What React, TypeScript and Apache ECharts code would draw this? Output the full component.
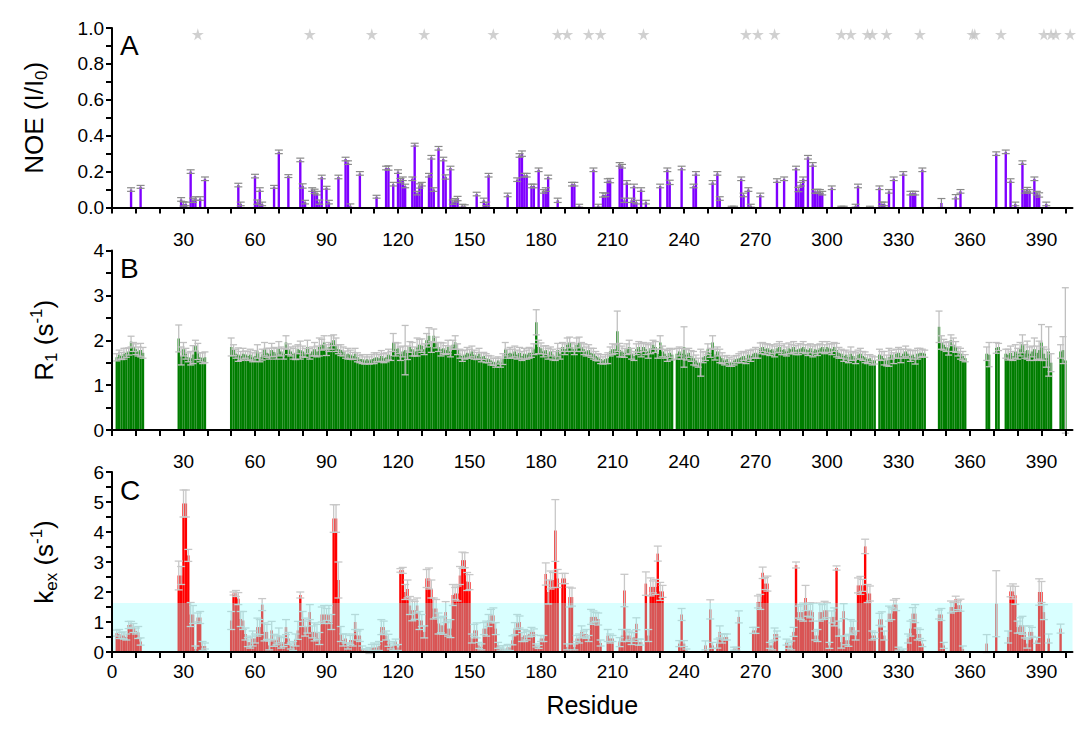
import React, { useEffect, useRef } from "react";
import * as echarts from "echarts";

const FONT = "Arial, 'Liberation Sans', sans-serif";
const X_MAX = 403;

const xTickValues = [0, 10, 20, 30, 40, 50, 60, 70, 80, 90, 100, 110, 120, 130, 140, 150, 160, 170, 180, 190, 200, 210, 220, 230, 240, 250, 260, 270, 280, 290, 300, 310, 320, 330, 340, 350, 360, 370, 380, 390, 400];
const xLabelsTop = [30, 60, 90, 120, 150, 180, 210, 240, 270, 300, 330, 360, 390];
const xLabelsBottom = [0, 30, 60, 90, 120, 150, 180, 210, 240, 270, 300, 330, 360, 390];
const noeTicks = [0, 0.1, 0.2, 0.3, 0.4, 0.5, 0.6, 0.7, 0.8, 0.9, 1.0];
const noeLabels = [0, 0.2, 0.4, 0.6, 0.8, 1.0];
const r1Ticks = [0, 0.5, 1, 1.5, 2, 2.5, 3, 3.5, 4];
const r1Labels = [0, 1, 2, 3, 4];
const kexTicks = [0, 0.5, 1, 1.5, 2, 2.5, 3, 3.5, 4, 4.5, 5, 5.5, 6];
const kexLabels = [0, 1, 2, 3, 4, 5, 6];

// Panel A: NOE (sparse residues)
const noeResidues = [8, 12, 29, 30, 31, 33, 34, 35, 37, 39, 53, 54, 60, 61, 62, 63, 68, 70, 74, 79, 80, 81, 84, 85, 86, 87, 88, 90, 91, 95, 98, 99, 100, 104, 111, 115, 116, 118, 120, 121, 122, 123, 126, 127, 128, 129, 130, 133, 134, 135, 137, 139, 140, 142, 143, 144, 145, 147, 148, 153, 156, 157, 158, 166, 170, 171, 172, 173, 174, 176, 177, 179, 181, 182, 183, 187, 193, 194, 196, 202, 204, 206, 207, 208, 209, 213, 214, 215, 216, 218, 219, 220, 222, 224, 230, 233, 234, 239, 244, 245, 252, 254, 255, 260, 261, 264, 265, 267, 268, 272, 279, 282, 287, 288, 289, 290, 292, 294, 295, 296, 297, 298, 302, 306, 307, 312, 313, 318, 322, 323, 324, 326, 328, 332, 335, 336, 337, 340, 348, 354, 356, 371, 375, 377, 379, 382, 383, 384, 385, 387, 388, 389, 392];
const noeValues = [0.10, 0.115, 0.045, 0.02, 0.02, 0.20, 0.04, 0.05, 0.05, 0.16, 0.125, 0.02, 0.175, 0.03, 0.10, 0.02, 0.115, 0.31, 0.175, 0.265, 0.12, 0.03, 0.10, 0.09, 0.08, 0.03, 0.17, 0.11, 0.03, 0.17, 0.27, 0.25, 0.01, 0.19, 0.06, 0.22, 0.22, 0.13, 0.20, 0.15, 0.16, 0.12, 0.16, 0.35, 0.08, 0.12, 0.13, 0.18, 0.28, 0.10, 0.33, 0.27, 0.17, 0.22, 0.03, 0.04, 0.05, 0.01, 0.005, 0.075, 0.04, 0.02, 0.18, 0.07, 0.155, 0.29, 0.30, 0.18, 0.18, 0.12, 0.12, 0.21, 0.09, 0.10, 0.17, 0.04, 0.13, 0.13, 0.01, 0.21, 0.01, 0.07, 0.07, 0.15, 0.15, 0.24, 0.23, 0.04, 0.14, 0.04, 0.12, 0.03, 0.10, 0.03, 0.12, 0.21, 0.14, 0.22, 0.12, 0.19, 0.14, 0.19, 0.05, 0.003, 0.003, 0.16, 0.07, 0.10, 0.01, 0.07, 0.15, 0.16, 0.22, 0.10, 0.13, 0.16, 0.28, 0.24, 0.09, 0.09, 0.09, 0.08, 0.11, 0.003, 0.003, 0.01, 0.12, 0.003, 0.11, 0.02, 0.02, 0.09, 0.16, 0.19, 0.08, 0.08, 0.08, 0.21, 0.025, 0.06, 0.09, 0.30, 0.31, 0.15, 0.02, 0.25, 0.09, 0.10, 0.09, 0.16, 0.08, 0.07, 0.02];
const noeErrors = [0.010, 0.008, 0.010, 0.012, 0.010, 0.010, 0.012, 0.010, 0.010, 0.010, 0.010, 0.010, 0.010, 0.012, 0.010, 0.010, 0.008, 0.010, 0.008, 0.010, 0.012, 0.010, 0.010, 0.012, 0.010, 0.012, 0.010, 0.008, 0.010, 0.010, 0.010, 0.010, 0.010, 0.010, 0.008, 0.010, 0.012, 0.010, 0.010, 0.012, 0.010, 0.010, 0.010, 0.008, 0.010, 0.012, 0.010, 0.010, 0.010, 0.010, 0.010, 0.010, 0.012, 0.010, 0.012, 0.010, 0.012, 0.008, 0.010, 0.010, 0.012, 0.010, 0.010, 0.010, 0.010, 0.010, 0.015, 0.010, 0.010, 0.010, 0.010, 0.010, 0.010, 0.010, 0.010, 0.012, 0.010, 0.010, 0.008, 0.010, 0.008, 0.012, 0.010, 0.010, 0.012, 0.010, 0.010, 0.012, 0.010, 0.012, 0.010, 0.010, 0.010, 0.010, 0.010, 0.010, 0.012, 0.010, 0.010, 0.010, 0.010, 0.010, 0.010, 0.004, 0.004, 0.010, 0.010, 0.010, 0.008, 0.010, 0.010, 0.010, 0.010, 0.012, 0.010, 0.010, 0.010, 0.010, 0.010, 0.012, 0.010, 0.010, 0.010, 0.004, 0.004, 0.008, 0.010, 0.004, 0.010, 0.010, 0.010, 0.010, 0.010, 0.010, 0.010, 0.010, 0.010, 0.010, 0.025, 0.012, 0.010, 0.010, 0.010, 0.010, 0.010, 0.010, 0.010, 0.012, 0.010, 0.010, 0.010, 0.012, 0.010, 0.015];
const starResidues = [36, 83, 109, 131, 160, 187, 191, 200, 205, 223, 266, 271, 278, 306, 310, 317, 319, 325, 339, 361, 362, 373, 391, 394, 396, 402];
const starLevel = 0.965;

// Panel B: R1, index 0 = residue 1
const r1Values = [
  null, 1.62, 1.68, 1.65, 1.70, 1.72, 1.75, 1.97, 1.85, 1.80,
  1.75, 1.78, 1.72, null, null, null, null, null, null, null,
  null, null, null, null, null, null, null, 2.04, 1.65, 1.80,
  1.70, 1.62, 1.60, 1.68, 1.88, 1.75, 1.62, 1.60, 1.62, null,
  null, null, null, null, null, null, null, null, null, 1.85,
  1.78, 1.70, 1.68, 1.65, 1.70, 1.68, 1.65, 1.68, 1.62, 1.65,
  1.75, 1.62, 1.68, 1.80, 1.72, 1.70, 1.78, 1.74, 1.70, 1.82,
  1.75, 1.70, 1.95, 1.80, 1.75, 1.70, 1.72, 1.80, 1.78, 1.75,
  1.72, 1.85, 1.70, 1.75, 1.80, 1.75, 1.85, 1.90, 1.95, 1.78,
  1.85, 1.95, 2.00, 1.90, 1.80, 1.78, 1.75, 1.68, 1.70, 1.68,
  1.65, 1.70, 1.62, 1.58, 1.58, 1.55, 1.58, 1.55, 1.58, 1.60,
  1.62, 1.60, 1.65, 1.60, 1.62, 1.68, 1.65, 1.95, 1.80, 1.82,
  1.70, 1.75, 1.78, 1.72, 1.85, 1.80, 1.75, 1.85, 1.90, 1.88,
  1.80, 2.00, 2.10, 1.85, 2.10, 1.95, 1.85, 1.80, 1.82, 1.78,
  1.85, 1.75, 1.90, 1.95, 1.80, 1.70, 1.65, 1.68, 1.72, 1.70,
  1.75, 1.68, 1.65, 1.70, 1.62, 1.65, 1.60, 1.58, 1.55, 1.52,
  1.50, 1.55, 1.50, 1.58, 1.80, 1.70, 1.72, 1.70, 1.75, 1.68,
  1.72, 1.65, 1.70, 1.68, 1.72, 1.72, 1.80, 2.40, 1.85, 1.82,
  1.75, 1.78, 1.70, 1.75, 1.68, 1.65, 1.78, 1.70, 1.85, 1.80,
  1.90, 1.95, 1.85, 1.80, 1.90, 1.95, 1.85, 1.80, 1.75, 1.78,
  1.72, 1.70, 1.65, 1.62, 1.58, 1.55, 1.58, 1.60, 1.75, 1.80,
  1.80, 2.20, 1.78, 1.75, 1.72, 1.80, 1.85, 1.70, 1.65, 1.80,
  1.85, 1.78, 1.85, 1.80, 1.75, 1.82, 1.90, 1.85, 1.70, 1.95,
  1.75, 1.70, 1.65, 1.72, 1.68, null, 1.70, 1.75, 1.70, 1.85,
  1.68, 1.72, 1.65, 1.60, 1.55, 1.50, 1.50, 1.62, 1.65, 1.80,
  1.72, 1.95, 1.68, 1.75, 1.65, 1.60, 1.55, 1.58, 1.52, 1.50,
  1.55, 1.58, 1.60, 1.62, 1.65, 1.60, 1.68, 1.65, 1.70, 1.72,
  1.70, 1.82, 1.85, 1.80, 1.82, 1.78, 1.80, 1.75, 1.82, 1.85,
  1.78, 1.80, 1.75, 1.82, 1.80, 1.85, 1.78, 1.80, 1.82, 1.85,
  1.80, 1.78, 1.82, 1.75, 1.80, 1.78, 1.82, 1.85, 1.80, 1.85,
  1.82, 1.80, 1.85, 1.78, 1.72, 1.70, 1.65, 1.68, 1.62, 1.70,
  1.65, 1.60, 1.68, 1.70, 1.65, 1.62, 1.58, 1.60, 1.55, 1.55,
  null, 1.68, 1.65, 1.60, 1.55, 1.62, 1.68, 1.60, 1.70, 1.72,
  1.65, 1.70, 1.75, 1.70, 1.65, 1.68, 1.62, 1.70, 1.72, 1.72,
  1.70, null, null, null, null, null, 2.30, 1.95, 1.90, 1.85,
  1.82, 2.00, 1.90, 1.85, 1.75, 1.70, 1.65, 1.60, null, null,
  null, null, null, null, null, null, 1.70, 1.68, null, null,
  1.83, 1.85, null, null, 1.70, 1.68, 1.72, 1.65, 1.75, 1.70,
  1.80, 1.92, 1.75, 1.78, 1.70, 1.75, 1.80, 1.72, 1.78, 1.95,
  1.70, 1.60, 1.75, 1.50, null, null, null, 1.75, 1.78, 1.55,
  null, null, null,
];
const r1Errors = [
  0, 0.08, 0.10, 0.08, 0.12, 0.10, 0.08, 0.12, 0.10, 0.12,
  0.10, 0.15, 0.12, 0, 0, 0, 0, 0, 0, 0,
  0, 0, 0, 0, 0, 0, 0, 0.30, 0.20, 0.15,
  0.12, 0.10, 0.15, 0.20, 0.12, 0.18, 0.10, 0.12, 0.12, 0,
  0, 0, 0, 0, 0, 0, 0, 0, 0, 0.20,
  0.12, 0.10, 0.15, 0.10, 0.12, 0.08, 0.10, 0.12, 0.10, 0.12,
  0.15, 0.10, 0.12, 0.15, 0.10, 0.12, 0.15, 0.10, 0.12, 0.15,
  0.10, 0.12, 0.15, 0.12, 0.10, 0.12, 0.15, 0.10, 0.20, 0.12,
  0.10, 0.15, 0.12, 0.10, 0.15, 0.12, 0.20, 0.12, 0.15, 0.12,
  0.10, 0.15, 0.12, 0.15, 0.10, 0.12, 0.10, 0.08, 0.12, 0.10,
  0.08, 0.12, 0.10, 0.08, 0.10, 0.08, 0.10, 0.08, 0.10, 0.12,
  0.10, 0.08, 0.12, 0.10, 0.10, 0.12, 0.10, 0.20, 0.15, 0.12,
  0.15, 0.12, 0.55, 0.15, 0.12, 0.15, 0.10, 0.20, 0.12, 0.15,
  0.12, 0.15, 0.18, 0.12, 0.15, 0.12, 0.10, 0.15, 0.12, 0.10,
  0.15, 0.12, 0.10, 0.15, 0.12, 0.10, 0.12, 0.10, 0.12, 0.10,
  0.12, 0.10, 0.08, 0.12, 0.10, 0.08, 0.10, 0.08, 0.10, 0.08,
  0.10, 0.08, 0.10, 0.12, 0.15, 0.10, 0.12, 0.10, 0.12, 0.10,
  0.12, 0.10, 0.12, 0.10, 0.12, 0.10, 0.12, 0.28, 0.15, 0.12,
  0.12, 0.10, 0.12, 0.10, 0.12, 0.10, 0.15, 0.12, 0.10, 0.12,
  0.15, 0.12, 0.10, 0.12, 0.15, 0.12, 0.10, 0.12, 0.10, 0.12,
  0.10, 0.12, 0.10, 0.08, 0.10, 0.08, 0.10, 0.12, 0.10, 0.12,
  0.10, 0.45, 0.15, 0.12, 0.10, 0.12, 0.15, 0.12, 0.10, 0.12,
  0.12, 0.15, 0.10, 0.12, 0.15, 0.12, 0.10, 0.12, 0.10, 0.15,
  0.12, 0.10, 0.12, 0.10, 0.12, 0, 0.12, 0.10, 0.12, 0.45,
  0.12, 0.10, 0.12, 0.15, 0.12, 0.10, 0.30, 0.12, 0.10, 0.12,
  0.10, 0.15, 0.12, 0.10, 0.15, 0.12, 0.10, 0.08, 0.10, 0.08,
  0.10, 0.08, 0.10, 0.12, 0.10, 0.12, 0.10, 0.12, 0.10, 0.12,
  0.10, 0.12, 0.10, 0.12, 0.10, 0.12, 0.10, 0.12, 0.10, 0.12,
  0.10, 0.12, 0.10, 0.12, 0.10, 0.12, 0.10, 0.12, 0.10, 0.12,
  0.10, 0.12, 0.10, 0.12, 0.10, 0.12, 0.10, 0.12, 0.10, 0.12,
  0.10, 0.12, 0.10, 0.15, 0.12, 0.10, 0.12, 0.10, 0.12, 0.15,
  0.10, 0.12, 0.10, 0.12, 0.10, 0.12, 0.10, 0.08, 0.10, 0.08,
  0, 0.12, 0.10, 0.15, 0.12, 0.20, 0.10, 0.12, 0.10, 0.12,
  0.15, 0.10, 0.12, 0.10, 0.12, 0.10, 0.15, 0.12, 0.10, 0.08,
  0.08, 0, 0, 0, 0, 0, 0.35, 0.15, 0.12, 0.10,
  0.15, 0.12, 0.15, 0.12, 0.10, 0.12, 0.10, 0.08, 0, 0,
  0, 0, 0, 0, 0, 0, 0.15, 0.27, 0, 0,
  0.12, 0.08, 0, 0, 0.10, 0.12, 0.15, 0.10, 0.15, 0.12,
  0.15, 0.20, 0.15, 0.20, 0.15, 0.12, 0.25, 0.15, 0.20, 0.40,
  0.15, 0.20, 0.55, 0.20, 0, 0, 0, 0.15, 0.30, 1.62,
  0, 0, 0,
];

// Panel C: kex, index 0 = residue 1
const kexValues = [
  null, 0.63, 0.60, 0.55, 0.55, 0.50, 0.90, 0.92, 0.80, 0.70,
  0.65, 0.35, null, null, null, null, null, null, null, null,
  null, null, null, null, null, null, null, 2.55, 2.55, 4.95,
  4.95, 3.22, 1.25, 1.25, 0.10, 1.15, 1.15, 0.20, 0.20, null,
  null, null, null, null, null, null, null, null, null, 1.05,
  1.95, 1.95, 1.78, 1.10, 1.05, 0.60, 0.33, 0.33, 0.45, 0.45,
  0.83, 0.83, 1.58, 0.67, 0.67, 0.22, 0.72, 0.39, 0.39, 0.55,
  0.33, 0.33, 0.83, 0.45, 0.20, 0.20, 0.40, 0.72, 1.90, 1.10,
  0.83, 0.83, 1.33, 0.67, 0.67, 0.67, 0.45, 1.25, 1.25, 1.25,
  1.25, 1.00, 4.45, 4.45, 2.40, 0.60, 0.40, 0.45, 0.20, 0.40,
  0.40, 1.00, 0.55, 0.55, 0.10, 0.05, 0.05, 0.05, 0.15, 0.15,
  0.15, 0.20, 0.83, 0.83, 0.55, 0.39, 0.20, 0.20, 0.33, 0.15,
  2.72, 2.72, 2.00, 2.10, 1.55, 1.39, 1.39, 1.55, 1.05, 1.05,
  0.67, 2.45, 2.45, 2.10, 1.45, 1.45, 0.95, 0.89, 0.89, 1.33,
  0.78, 0.78, 1.90, 1.95, 1.95, 2.55, 3.06, 3.06, 2.35, 2.33,
  0.45, 0.72, 0.72, 0.22, 0.17, 0.78, 0.78, 1.05, 1.22, 1.22,
  0.78, 0.22, 0.11, 0.11, 0.05, 0.15, 0.15, 0.39, 0.78, 1.00,
  1.00, 0.50, 0.55, 0.55, 0.60, 0.67, 0.67, 0.22, 0.17, 0.45,
  0.45, 2.60, 2.00, 2.40, 2.40, 4.05, 2.45, null, 2.45, 2.45,
  0.17, 1.83, 1.83, 0.17, 0.45, 0.45, 0.67, 0.60, 0.60, 0.45,
  1.17, 1.17, 1.17, 1.10, 0.30, null, null, 0.55, 0.45, 0.45,
  null, null, 0.33, 0.55, 2.05, 0.55, 0.55, 0.45, 0.50, 0.94,
  0.33, 0.33, null, 2.28, 0.55, 2.17, 2.17, 2.17, 3.28, 2.02,
  2.02, null, null, null, null, null, null, 0.28, 1.25, 0.28,
  0.05, null, null, null, null, null, null, null, 0.22, null,
  1.42, 0.22, null, 0.28, 0.67, 0.45, 0.50, 0.50, null, null,
  0.11, 0.11, 1.17, null, null, null, null, null, 0.72, 0.72,
  1.67, 1.67, 2.64, 2.28, 2.28, 0.22, 0.22, 0.60, 0.60, null,
  null, null, 0.33, 0.22, 0.22, 0.67, 2.90, 1.33, 1.33, 1.33,
  1.80, 1.39, 1.39, 1.33, 0.55, 0.55, 1.33, 1.33, 1.39, 1.39,
  0.22, 1.17, 1.17, 2.80, 0.78, 0.33, 1.36, 0.39, 0.39, 0.83,
  0.83, 0.55, 2.22, 2.22, 2.22, 3.52, 1.95, 1.95, 0.55, 0.55,
  null, 1.09, 1.09, 0.55, null, 1.28, 1.28, 1.58, 1.58, 0.11,
  null, 0.05, null, 0.45, 0.78, 1.28, 1.28, 0.60, 0.60, 0.28,
  null, null, null, null, null, null, 1.25, 1.25, 0.22, null,
  null, 1.50, 1.50, 1.76, 1.56, 1.56, 0.10, null, null, null,
  null, null, null, null, null, null, 0.28, null, null, null,
  1.61, null, null, null, null, 0.50, 2.02, 2.02, 1.89, 0.83,
  0.89, 0.89, 0.67, 0.28, 0.67, 0.67, null, 0.39, 2.00, 2.00,
  1.33, null, 0.45, null, null, null, null, 0.78, null, null,
  null, null, null,
];
const kexErrors = [
  0, 0.10, 0.15, 0.10, 0.12, 0.10, 0.12, 0.10, 0.15, 0.10,
  0.20, 0.12, 0, 0, 0, 0, 0, 0, 0, 0,
  0, 0, 0, 0, 0, 0, 0, 0.48, 0.30, 0.45,
  0.45, 0.20, 0.40, 0.30, 0.10, 0.15, 0.20, 0.15, 0.10, 0,
  0, 0, 0, 0, 0, 0, 0, 0, 0, 0.30,
  0.05, 0.10, 0.20, 0.25, 0.30, 0.20, 0.15, 0.20, 0.25, 0.15,
  0.30, 0.25, 0.20, 0.30, 0.25, 0.15, 0.30, 0.20, 0.15, 0.25,
  0.20, 0.15, 0.25, 0.20, 0.10, 0.15, 0.20, 0.30, 0.10, 0.25,
  0.30, 0.20, 0.25, 0.20, 0.30, 0.25, 0.20, 0.25, 0.30, 0.20,
  0.30, 0.25, 0.46, 0.46, 0.60, 0.25, 0.20, 0.15, 0.10, 0.15,
  0.20, 0.25, 0.15, 0.20, 0.10, 0.05, 0.05, 0.10, 0.10, 0.15,
  0.10, 0.15, 0.25, 0.20, 0.15, 0.20, 0.10, 0.15, 0.10, 0.10,
  0.06, 0.10, 0.25, 0.30, 0.30, 0.35, 0.30, 0.25, 0.30, 0.20,
  0.20, 0.30, 0.35, 0.30, 0.35, 0.30, 0.35, 0.25, 0.30, 0.35,
  0.25, 0.30, 0.35, 0.20, 0.25, 0.30, 0.27, 0.25, 0.30, 0.25,
  0.15, 0.20, 0.25, 0.10, 0.10, 0.20, 0.25, 0.20, 0.20, 0.25,
  0.20, 0.10, 0.05, 0.10, 0.05, 0.10, 0.10, 0.15, 0.20, 0.25,
  0.20, 0.15, 0.20, 0.15, 0.10, 0.15, 0.10, 0.05, 0.05, 0.10,
  0.10, 0.37, 0.40, 0.30, 0.25, 1.03, 0.30, 0, 0.17, 0.17,
  0.10, 0.33, 0.30, 0.10, 0.10, 0.15, 0.20, 0.10, 0.15, 0.10,
  0.25, 0.20, 0.15, 0.20, 0.10, 0, 0, 0.20, 0.15, 0.10,
  0, 0, 0.15, 0.20, 0.54, 0.20, 0.15, 0.20, 0.15, 0.20,
  0.10, 0.10, 0, 0.39, 0.20, 0.30, 0.20, 0.25, 0.25, 0.30,
  0.20, 0, 0, 0, 0, 0, 0, 0.10, 0.20, 0.10,
  0.05, 0, 0, 0, 0, 0, 0, 0, 0.15, 0,
  0.32, 0.10, 0, 0.15, 0.20, 0.15, 0.10, 0.10, 0, 0,
  0.05, 0.05, 0.20, 0, 0, 0, 0, 0, 0.10, 0.10,
  0.20, 0.25, 0.19, 0.20, 0.25, 0.10, 0.15, 0.20, 0.10, 0,
  0, 0, 0.10, 0.10, 0.15, 0.15, 0.10, 0.20, 0.25, 0.30,
  0.42, 0.20, 0.25, 0.30, 0.15, 0.20, 0.30, 0.25, 0.30, 0.25,
  0.10, 0.20, 0.30, 0.07, 0.25, 0.20, 0.25, 0.15, 0.20, 0.25,
  0.20, 0.15, 0.25, 0.30, 0.20, 0.24, 0.30, 0.25, 0.15, 0.10,
  0, 0.20, 0.25, 0.15, 0, 0.25, 0.20, 0.15, 0.20, 0.05,
  0, 0.05, 0, 0.15, 0.25, 0.20, 0.30, 0.20, 0.15, 0.10,
  0, 0, 0, 0, 0, 0, 0.15, 0.20, 0.10, 0,
  0, 0.20, 0.15, 0.10, 0.15, 0.20, 0.10, 0, 0, 0,
  0, 0, 0, 0, 0, 0, 0.30, 0, 0, 0,
  1.10, 0, 0, 0, 0, 0.20, 0.18, 0.25, 0.30, 0.20,
  0.25, 0.30, 0.20, 0.15, 0.20, 0.15, 0, 0.10, 0.44, 0.35,
  0.25, 0, 0.15, 0, 0, 0, 0, 0.15, 0, 0,
  0, 0, 0,
];
const kexBand = 1.63;

const STAR = "path://M50,0 L61,35 L98,35 L68,57 L79,91 L50,70 L21,91 L32,57 L2,35 L39,35 Z";

function indexed(values: (number | null)[], errors: number[]) {
  const out: number[][] = [];
  values.forEach((v, i) => {
    if (v !== null && v !== undefined) out.push([i + 1, v, errors[i] || 0]);
  });
  return out;
}

function barRender(color: string) {
  return (params: any, api: any) => {
    const x = api.value(0);
    const y = api.value(1);
    const p0 = api.coord([x - 0.5, 0]);
    const p1 = api.coord([x + 0.5, y]);
    return {
      type: "rect",
      shape: { x: p0[0], y: p1[1], width: p1[0] - p0[0], height: p0[1] - p1[1] },
      style: { fill: color },
    };
  };
}

function errRender(color: string, half: number, width: number) {
  return (params: any, api: any) => {
    const x = api.value(0);
    const y = api.value(1);
    const e = api.value(2);
    if (!e) return null;
    const t = api.coord([x, y + e]);
    const b = api.coord([x, y - e]);
    const st = { stroke: color, lineWidth: width };
    return {
      type: "group",
      children: [
        { type: "line", shape: { x1: t[0], y1: t[1], x2: b[0], y2: b[1] }, style: st },
        { type: "line", shape: { x1: t[0] - half, y1: t[1], x2: t[0] + half, y2: t[1] }, style: st },
        { type: "line", shape: { x1: b[0] - half, y1: b[1], x2: b[0] + half, y2: b[1] }, style: st },
      ],
    };
  };
}

const grids = [
  { left: 112, top: 28, width: 960.5, height: 179.5 },
  { left: 112, top: 250.5, width: 960.5, height: 179.5 },
  { left: 112, top: 472, width: 960.5, height: 180 },
];

const axisLineStyle = { color: "#000", width: 2 };

function xAxis(gridIndex: number, labels: number[], margin: number, extra: any = {}) {
  return {
    type: "value",
    gridIndex,
    min: 0,
    max: X_MAX,
    z: 10,
    axisLine: { show: true, onZero: false, lineStyle: axisLineStyle },
    axisTick: { show: true, inside: false, length: 6, lineStyle: axisLineStyle, customValues: xTickValues },
    axisLabel: { show: true, customValues: labels, margin, fontSize: 19, color: "#000", fontFamily: FONT },
    splitLine: { show: false },
    ...extra,
  };
}

function yAxis(gridIndex: number, max: number, ticks: number[], labels: number[], fmt: (v: number) => string, extra: any = {}) {
  return {
    type: "value",
    gridIndex,
    min: 0,
    max,
    z: 10,
    axisLine: { show: true, onZero: false, lineStyle: axisLineStyle },
    axisTick: { show: true, inside: false, length: 6, lineStyle: axisLineStyle, customValues: ticks },
    axisLabel: { show: true, customValues: labels, margin: 8, fontSize: 19, color: "#000", fontFamily: FONT, formatter: fmt },
    splitLine: { show: false },
    nameLocation: "middle",
    nameRotate: 90,
    ...extra,
  };
}

const richName = {
  a: { fontSize: 26, fontFamily: FONT, color: "#000", lineHeight: 32 },
  s: { fontSize: 17, fontFamily: FONT, color: "#000", lineHeight: 17, verticalAlign: "bottom" },
  p: { fontSize: 17, fontFamily: FONT, color: "#000", lineHeight: 17, verticalAlign: "top" },
};

export default function App() {
  const ref = useRef<HTMLDivElement>(null);
  useEffect(() => {
    if (!ref.current) return;
    const chart = echarts.init(ref.current, null, { renderer: "svg" });
    const noeData = noeResidues.map((r, i) => [r, noeValues[i], noeErrors[i]]);
    const r1Data = indexed(r1Values, r1Errors);
    const kexData = indexed(kexValues, kexErrors);
    const option: any = {
      animation: false,
      backgroundColor: "#fff",
      grid: grids,
      xAxis: [
        xAxis(0, xLabelsTop, 22),
        xAxis(1, xLabelsTop, 22),
        xAxis(2, xLabelsBottom, 10, {
          name: "Residue",
          nameLocation: "middle",
          nameGap: 40,
          nameTextStyle: { fontSize: 25, fontFamily: FONT, color: "#000" },
        }),
      ],
      yAxis: [
        yAxis(0, 1, noeTicks, noeLabels, (v) => v.toFixed(1), {
          name: "{a|NOE (I/I}{s|0}{a|)}",
          nameGap: 62,
          nameTextStyle: { fontSize: 26, fontFamily: FONT, color: "#000", rich: richName },
        }),
        yAxis(1, 4, r1Ticks, r1Labels, (v) => String(v), {
          name: "{a|R}{s|1}{a| (s}{p|-1}{a|)}",
          nameGap: 52,
          nameTextStyle: { fontSize: 26, fontFamily: FONT, color: "#000", rich: richName },
        }),
        yAxis(2, 6, kexTicks, kexLabels, (v) => String(v), {
          name: "{a|k}{s|ex}{a| (s}{p|-1}{a|)}",
          nameGap: 52,
          nameTextStyle: { fontSize: 26, fontFamily: FONT, color: "#000", rich: richName },
        }),
      ],
      graphic: [
        { type: "text", x: 120, y: 45, style: { text: "A", fontSize: 28, fontFamily: FONT, fill: "#000", verticalAlign: "middle" } },
        { type: "text", x: 120, y: 268, style: { text: "B", fontSize: 28, fontFamily: FONT, fill: "#000", verticalAlign: "middle" } },
        { type: "text", x: 120, y: 490, style: { text: "C", fontSize: 28, fontFamily: FONT, fill: "#000", verticalAlign: "middle" } },
      ],
      series: [
        { type: "custom", name: "NOE", xAxisIndex: 0, yAxisIndex: 0, data: noeData, z: 2, silent: true, encode: { x: 0, y: 1 }, renderItem: barRender("#7f00ff") },
        { type: "custom", name: "NOE err", xAxisIndex: 0, yAxisIndex: 0, data: noeData, z: 3, silent: true, encode: { x: 0, y: 1 }, renderItem: errRender("#8a8a8a", 4, 1.2) },
        {
          type: "scatter", name: "stars", xAxisIndex: 0, yAxisIndex: 0,
          data: starResidues.map((r) => [r, starLevel]),
          symbol: STAR, symbolSize: 12, itemStyle: { color: "#c4c4c4" }, silent: true, z: 3,
        },
        { type: "custom", name: "R1", xAxisIndex: 1, yAxisIndex: 1, data: r1Data, z: 2, silent: true, encode: { x: 0, y: 1 }, renderItem: barRender("#007d00") },
        { type: "custom", name: "R1 err", xAxisIndex: 1, yAxisIndex: 1, data: r1Data, z: 3, silent: true, encode: { x: 0, y: 1 }, renderItem: errRender("#c0c0c0", 3.5, 1.3) },
        { type: "custom", name: "kex", xAxisIndex: 2, yAxisIndex: 2, data: kexData, z: 2, silent: true, encode: { x: 0, y: 1 }, renderItem: barRender("#ff0000") },
        { type: "custom", name: "kex err", xAxisIndex: 2, yAxisIndex: 2, data: kexData, z: 3, silent: true, encode: { x: 0, y: 1 }, renderItem: errRender("#c8c8c8", 4, 1.3) },
        {
          type: "custom", name: "band", xAxisIndex: 2, yAxisIndex: 2, data: [[0, X_MAX, kexBand]], z: 5, silent: true,
          renderItem: (params: any, api: any) => {
            const p0 = api.coord([api.value(0), 0]);
            const p1 = api.coord([api.value(1), api.value(2)]);
            return {
              type: "rect",
              shape: { x: p0[0], y: p1[1], width: p1[0] - p0[0], height: p0[1] - p1[1] },
              style: { fill: "rgba(140,255,255,0.33)" },
            };
          },
        },
      ],
    };
    chart.setOption(option);
    return () => chart.dispose();
  }, []);
  return <div ref={ref} style={{ position: "absolute", left: 0, top: 0, width: 1081, height: 740, background: "#fff" }} />;
}
